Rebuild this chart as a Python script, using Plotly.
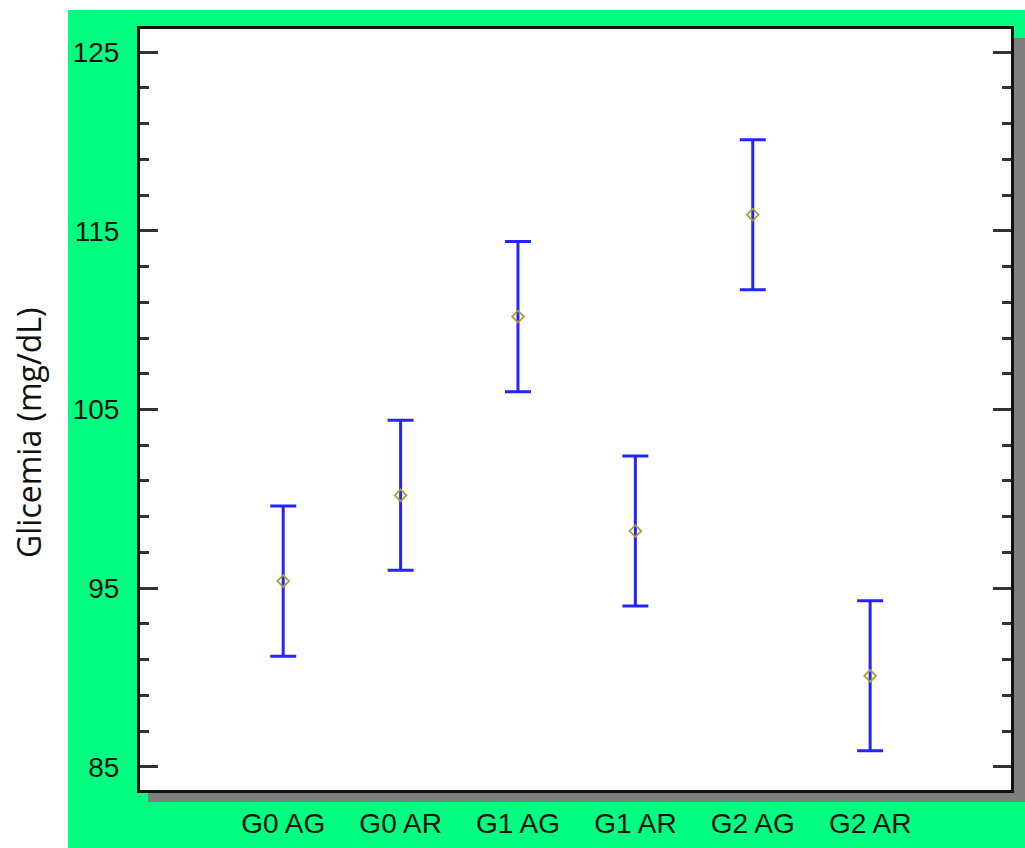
import plotly.graph_objects as go

categories = ["G0 AG", "G0 AR", "G1 AG", "G1 AR", "G2 AG", "G2 AR"]
means = [95.4, 100.2, 110.2, 98.2, 115.9, 90.1]
errors = [4.2, 4.2, 4.2, 4.2, 4.2, 4.2]
y_ticks = [85, 95, 105, 115, 125]

W, H = 1025, 848
L, R, T, B = 140, 14, 29, 58
pw, ph = W - L - R, H - T - B

def px_x(p):
    return (p - L) / pw

def px_y(p):
    return (H - B - p) / ph

fig = go.Figure()
fig.add_trace(go.Scatter(
    x=categories, y=means, mode="markers",
    marker=dict(symbol="diamond-open", size=9, color="#a8a032", line=dict(width=1.8)),
    error_y=dict(type="data", array=errors, visible=True, color="#2424ff", thickness=3, width=13),
    showlegend=False, hoverinfo="skip",
))

shapes = [
    dict(type="rect", xref="paper", yref="paper", x0=px_x(68), x1=px_x(1030), y0=px_y(10), y1=px_y(855),
         fillcolor="#00ff80", line=dict(width=0), layer="below"),
    dict(type="rect", xref="paper", yref="paper", x0=px_x(148), x1=px_x(1025), y0=px_y(38), y1=px_y(802),
         fillcolor="#7f7f7f", line=dict(width=0), layer="below"),
    dict(type="rect", xref="paper", yref="paper", x0=0, x1=1, y0=0, y1=1,
         fillcolor="white", line=dict(width=0), layer="below"),
]

tickfont = dict(family="Liberation Sans Narrow, Arial Narrow, Liberation Sans, sans-serif", size=28, color="#111111")

fig.update_layout(
    width=W, height=H,
    margin=dict(l=L, r=R, t=T, b=B, autoexpand=False),
    paper_bgcolor="white", plot_bgcolor="rgba(0,0,0,0)",
    shapes=shapes,
    xaxis=dict(
        type="category", range=[-1.22, 6.2], showgrid=False, zeroline=False, automargin=False,
        showline=True, linecolor="#111111", linewidth=3, mirror=True,
        ticks="", tickfont=tickfont, ticklabelstandoff=6,
    ),
    yaxis=dict(
        range=[83.71, 126.29], tickvals=y_ticks, ticktext=[str(v) for v in y_ticks],
        showgrid=False, zeroline=False, automargin=False,
        showline=True, linecolor="#111111", linewidth=3, mirror="allticks",
        ticks="inside", ticklen=18, tickwidth=3, tickcolor="#333333",
        minor=dict(tick0=85, dtick=2, ticks="inside", ticklen=9, tickwidth=3, tickcolor="#333333", showgrid=False),
        tickfont=tickfont, ticklabelstandoff=12,
    ),
    annotations=[dict(
        text="Glicemia (mg/dL)", xref="paper", yref="paper",
        x=px_x(29), y=px_y(433), textangle=-90, showarrow=False,
        font=dict(family="Open Sans, sans-serif", size=32, color="#111111"),
        xanchor="center", yanchor="middle",
    )],
)

fig.write_html("out.html", post_script="document.body.style.margin='0';",
               config={"displayModeBar": False})
